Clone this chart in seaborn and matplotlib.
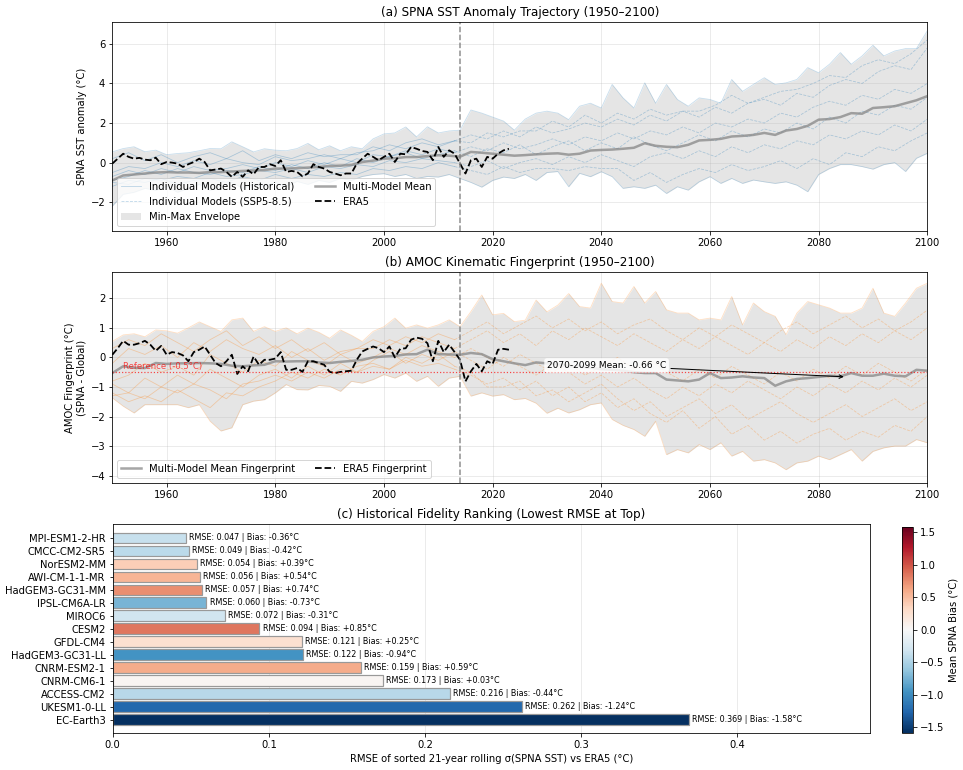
import numpy as np
import matplotlib
matplotlib.use("Agg")
import matplotlib.pyplot as plt
import seaborn as sns
from matplotlib.colors import Normalize
from matplotlib.cm import ScalarMappable
from matplotlib.lines import Line2D
from matplotlib.patches import Patch

# ---------------- data ----------------
# 2-year grid 1950..2100
sst_mean = [-0.9, -0.65, -0.6, -0.55, -0.5,
            -0.48, -0.5, -0.5, -0.52, -0.48,
            -0.48, -0.45, -0.42, -0.4, -0.38,
            -0.3, -0.3, -0.28, -0.25, -0.22,
            -0.17, -0.15, -0.12, 0.03, 0.1,
            0.2, 0.22, 0.28, 0.28, 0.33,
            0.37, 0.35, 0.3, 0.54, 0.5,
            0.45, 0.4, 0.35, 0.38, 0.42,
            0.45, 0.47, 0.4, 0.45, 0.61,
            0.64, 0.66, 0.7, 0.75, 0.98,
            0.85, 0.8, 0.78, 0.9, 1.12,
            1.15, 1.2, 1.32, 1.35, 1.4,
            1.5, 1.4, 1.62, 1.7, 1.86,
            2.17, 2.2, 2.3, 2.5, 2.47,
            2.76, 2.8, 2.85, 3.0, 3.15, 3.36]
sst_max = [0.54, 0.71, 0.8, 0.55, 0.63,
           0.4, 0.46, 0.5, 0.6, 0.71,
           0.7, 1.05, 0.8, 0.54, 0.7,
           0.63, 0.6, 0.71, 0.97, 0.65,
           0.85, 0.6, 0.8, 0.7, 1.2,
           1.45, 1.5, 1.8, 1.3, 1.81,
           1.5, 1.6, 1.64, 2.66, 2.5,
           2.3, 2.1, 1.64, 2.2, 2.5,
           2.6, 2.5, 2.17, 2.85, 3.0,
           2.76, 3.95, 3.27, 2.76, 4.03,
           3.0, 3.95, 3.19, 2.85, 3.27,
           3.19, 3.0, 4.2, 3.6, 3.95,
           4.29, 3.95, 4.03, 4.2, 4.8,
           4.54, 4.97, 5.56, 4.97, 5.39,
           5.93, 5.39, 5.64, 5.76, 5.76, 6.66]
sst_min = [-2.2, -1.6, -1.5, -1.3, -1.4,
           -1.2, -1.5, -1.3, -1.1, -1.4,
           -1.2, -1.0, -1.3, -1.1, -1.2,
           -1.0, -1.2, -0.95, -1.1, -0.9,
           -1.0, -0.8, -0.9, -0.7, -0.6,
           -0.56, -0.7, -0.6, -0.8, -0.7,
           -0.73, -0.6, -0.8, -1.0, -1.24,
           -0.9, -0.73, -0.8, -0.6, -0.9,
           -0.5, -0.45, -1.22, -0.54, -0.71,
           -0.46, -0.71, -1.3, -1.22, -1.3,
           -1.14, -1.56, -1.22, -1.39, -0.97,
           -0.71, -1.05, -0.8, -1.05, -0.88,
           -0.97, -1.05, -0.97, -1.14, -1.47,
           -0.6, -0.3, -0.1, -0.1, -0.2,
           -0.33, -0.1, 0.0, -0.45, 0.22, 0.47]

fp_mean = [-0.53, -0.3, -0.35, -0.36, -0.19,
           -0.22, -0.2, -0.2, -0.19, -0.2,
           -0.22, -0.28, -0.3, -0.27, -0.25,
           -0.13, -0.14, -0.13, -0.13, -0.17,
           -0.19, -0.15, -0.12, -0.08, 0.0,
           0.03, 0.05, 0.1, 0.11, 0.26,
           0.11, 0.1, 0.09, 0.15, 0.11,
           -0.06, -0.13, -0.2, -0.26, -0.17,
           -0.2, -0.22, -0.3, -0.3, -0.35,
           -0.4, -0.42, -0.45, -0.5, -0.53,
           -0.53, -0.75, -0.78, -0.81, -0.75,
           -0.53, -0.7, -0.68, -0.64, -0.68,
           -0.7, -0.96, -0.81, -0.73, -0.7,
           -0.66, -0.62, -0.64, -0.53, -0.62,
           -0.62, -0.55, -0.62, -0.64, -0.42, -0.45]
fp_max = [0.54, 0.76, 0.8, 0.7, 0.93,
          0.9, 0.82, 1.0, 1.2, 1.04,
          0.88, 1.27, 1.33, 0.88, 1.04,
          0.88, 1.0, 0.8, 0.99, 0.85,
          0.65, 0.93, 0.75, 0.54, 0.88,
          1.04, 1.33, 0.99, 1.1, 0.99,
          1.1, 1.27, 1.04, 1.55, 2.11,
          1.44, 1.49, 1.21, 1.26, 1.94,
          1.54, 1.77, 2.16, 1.72, 1.67,
          2.51, 1.89, 1.84, 2.4, 1.84,
          2.23, 1.61, 1.5, 1.5, 1.27,
          1.33, 1.27, 2.06, 1.1, 1.84,
          1.55, 1.39, 0.77, 1.5, 1.89,
          1.78, 1.67, 1.5, 1.5, 1.67,
          2.34, 1.5, 1.39, 1.84, 2.34, 2.51]
fp_min = [-1.37, -1.65, -1.88, -1.6, -1.6,
          -1.6, -1.6, -1.7, -1.6, -2.16,
          -2.49, -2.38, -1.6, -1.48, -1.43,
          -1.2, -0.92, -1.09, -1.1, -0.95,
          -0.98, -1.15, -0.81, -0.87, -0.75,
          -0.58, -0.7, -0.53, -0.81, -0.64,
          -0.98, -0.7, -0.64, -1.31, -1.2,
          -1.31, -1.26, -1.43, -1.39, -1.55,
          -1.89, -1.72, -1.88, -1.77, -1.6,
          -1.54, -2.1, -2.3, -2.44, -2.67,
          -2.16, -3.29, -3.12, -3.23, -2.95,
          -3.12, -2.89, -3.34, -3.18, -3.51,
          -3.46, -3.57, -3.8, -3.57, -3.51,
          -3.34, -3.46, -3.29, -3.12, -3.51,
          -3.18, -3.06, -3.0, -3.0, -2.78, -2.89]

# ERA5 annual 1950..2023
era5_sst = [-0.05, 0.2, 0.45, 0.29, 0.2, 0.24, 0.15, 0.12, 0.25, -0.08,
            0.03, 0.0, -0.05, -0.22, -0.08, 0.03, 0.2, 0.03, -0.39, -0.35,
            -0.3, -0.47, -0.72, -0.47, -0.72, -0.39, -0.59, -0.22, -0.22, -0.08,
            -0.17, 0.12, -0.47, -0.42, -0.47, -0.69, -0.55, -0.08, -0.22, -0.3,
            -0.47, -0.55, -0.64, -0.55, -0.55, -0.05, 0.2, 0.45, 0.29, 0.12,
            0.29, 0.45, 0.03, 0.45, 0.42, 0.79, 0.7, 0.59, 0.54, 0.12,
            0.79, 0.29, 0.62, 0.45, -0.05, -0.55, 0.12, 0.2, -0.22, 0.29,
            0.2, 0.45, 0.62, 0.7]
era5_fp = [0.09, 0.31, 0.56, 0.43, 0.43, 0.48, 0.56, 0.43, 0.22, 0.39,
           0.09, 0.18, 0.15, 0.07, -0.13, 0.18, 0.26, 0.37, 0.09, -0.19,
           -0.3, -0.13, 0.09, -0.56, -0.3, -0.47, 0.03, -0.25, -0.08, -0.08,
           -0.04, 0.18, -0.42, -0.42, -0.36, -0.49, -0.13, -0.13, -0.19, -0.25,
           -0.49, -0.53, -0.49, -0.47, -0.45, -0.08, 0.2, 0.29, 0.37, 0.31,
           0.18, 0.37, 0.0, 0.29, 0.31, 0.6, 0.67, 0.63, 0.48, -0.13,
           0.56, 0.18, 0.43, 0.18, -0.08, -0.81, -0.47, -0.22, -0.47, -0.13,
           -0.22, 0.26, 0.29, 0.26]

# individual models, 3-year grid: historical 1950..2013, SSP5-8.5 2016..2100
sst_models_hist = [
    [-0.5, -0.2, -0.3, 0.0, -0.2, 0.1, -0.1, 0.2, 0.0, -0.1, 0.3, 0.1, 0.2, 0.4, 0.2, 0.5, 0.6, 0.9, 0.7, 1.0, 0.8, 1.1],
    [-1.2, -0.9, -1.0, -0.8, -1.1, -0.9, -0.8, -1.0, -0.7, -0.9, -0.6, -0.8, -0.6, -0.7, -0.5, -0.6, -0.3, -0.4, -0.2, -0.3, 0.0, -0.2],
    [-0.7, -0.4, -0.6, -0.3, -0.5, -0.2, -0.4, -0.3, -0.1, -0.3, 0.0, -0.2, 0.1, -0.1, 0.2, 0.0, 0.4, 0.3, 0.6, 0.4, 0.7, 0.5],
    [-0.9, -0.7, -0.4, -0.6, -0.3, -0.5, -0.6, -0.4, -0.5, -0.2, -0.4, -0.1, -0.3, 0.0, -0.2, 0.2, 0.0, 0.3, 0.5, 0.2, 0.4, 0.6],
    [0.2, 0.5, 0.1, 0.4, 0.0, 0.3, 0.5, 0.2, 0.6, 0.1, 0.4, 0.2, 0.5, 0.3, 0.4, 0.4, 0.8, 0.6, 1.0, 1.2, 0.9, 1.1],
    [-1.0, -1.1, -0.8, -0.9, -0.7, -0.8, -0.5, -0.7, -0.6, -0.4, -0.5, -0.3, -0.5, -0.2, -0.3, -0.1, -0.2, 0.1, 0.0, 0.2, 0.1, 0.0],
]
sst_models_ssp = [
    [1.4, 1.2, 1.6, 1.3, 1.8, 1.5, 1.7, 2.0, 1.8, 2.2, 1.9, 2.4, 2.1, 2.6, 2.3, 2.8, 2.5, 3.0, 3.2, 2.9, 3.5, 3.3, 3.9, 4.2, 4.0, 4.6, 4.9, 4.7, 5.8],
    [-0.4, -0.6, -0.2, -0.5, -0.3, -0.3, -0.4, -0.2, -0.3, -0.3, -0.9, -0.5, -1.0, -0.6, -0.3, -0.5, -0.1, -0.4, -0.2, 0.1, -0.3, 0.2, -0.1, 0.5, 0.3, 0.8, 0.6, 1.1, 1.5],
    [0.8, 0.6, 1.0, 0.7, 0.9, 1.2, 0.9, 1.3, 1.1, 1.5, 1.2, 1.6, 1.4, 1.8, 1.5, 2.0, 1.8, 2.2, 2.0, 2.5, 2.3, 2.8, 3.1, 2.9, 3.4, 3.2, 3.7, 3.5, 4.0],
    [0.3, 0.7, 0.5, 0.9, 0.4, 0.8, 1.1, 0.6, 1.0, 0.7, 1.3, 0.9, 0.6, 1.0, 1.4, 1.1, 1.6, 1.3, 1.7, 1.5, 2.0, 1.7, 2.3, 2.0, 2.6, 2.4, 2.9, 2.7, 3.3],
    [1.0, 1.5, 1.3, 1.6, 1.6, 2.1, 1.8, 2.4, 2.0, 2.5, 2.2, 2.7, 2.4, 2.6, 2.6, 2.9, 3.4, 3.0, 3.3, 3.6, 3.7, 4.0, 4.4, 4.3, 4.9, 5.2, 5.0, 5.5, 6.2],
    [-0.2, 0.1, -0.3, 0.0, 0.2, -0.1, 0.3, 0.0, 0.4, 0.1, -0.2, 0.3, 0.5, 0.2, 0.6, 0.3, 0.8, 0.5, 0.9, 0.7, 1.1, 0.9, 1.4, 1.2, 1.6, 1.4, 1.9, 1.6, 2.2],
]
fp_models_hist = [
    [-1.3, -1.2, -1.4, -1.0, -1.2, -0.9, -1.1, -1.4, -0.9, -0.8, -0.6, -0.8, -0.5, -0.7, -0.4, -0.5, -0.3, -0.4, -0.1, -0.3, -0.2, -0.4],
    [-0.2, 0.3, 0.1, 0.4, 0.0, 0.5, 0.2, 0.6, 0.3, 0.1, 0.4, 0.0, 0.3, -0.1, 0.2, 0.3, 0.3, 0.6, 0.4, 0.7, 0.5, 0.3],
    [-0.8, -0.6, -0.2, -0.5, -0.3, -0.6, 0.1, -0.2, -0.5, -0.1, -0.3, 0.2, -0.1, -0.3, 0.1, -0.2, 0.0, 0.3, 0.1, 0.4, 0.2, 0.0],
    [-1.2, -1.5, -1.3, -1.5, -1.1, -1.4, -1.7, -1.2, -1.3, -1.0, -0.8, -0.5, -0.7, -0.4, -0.6, -0.3, -0.2, -0.4, 0.0, -0.2, 0.1, -0.3],
    [0.3, 0.6, 0.4, 0.8, 0.5, 0.2, 0.6, 0.9, 0.4, 0.7, 0.3, 0.6, 0.2, 0.5, 0.1, 0.3, 0.6, 0.4, 0.7, 0.5, 0.8, 0.6],
    [-0.9, -1.2, -0.7, -1.0, -0.6, -0.9, -0.4, -0.7, -1.0, -0.6, -0.4, -0.7, -0.3, -0.6, -0.2, -0.5, -0.1, 0.2, -0.2, 0.1, -0.1, 0.2],
]
fp_models_ssp = [
    [-0.6, -0.9, -0.7, -1.1, -0.8, -1.3, -1.0, -1.5, -1.2, -1.7, -1.4, -1.9, -2.2, -1.8, -2.4, -2.0, -2.6, -2.3, -2.8, -2.5, -2.9, -2.6, -2.4, -2.8, -2.5, -2.7, -2.3, -2.5, -2.0],
    [0.6, 0.9, 0.5, 0.8, 0.4, 0.9, 0.6, 1.0, 0.7, 0.4, 0.8, 0.5, 0.2, 0.6, 0.3, 0.7, 0.4, 0.1, 0.5, 0.2, 0.6, 0.3, 0.7, 0.4, 0.8, 0.5, 0.9, 0.6, 1.0],
    [0.3, 0.0, -0.3, 0.1, -0.2, -0.5, -0.2, -0.6, -0.3, 0.0, -0.4, -0.1, -0.5, -0.8, -0.4, -0.7, -0.3, -0.6, -0.9, -0.5, -0.8, -0.4, -0.7, -0.3, -0.6, -0.2, -0.5, -0.8, -0.4],
    [-0.5, -1.0, -1.0, -0.8, -1.3, -1.1, -1.5, -1.2, -0.9, -1.4, -1.8, -1.5, -2.0, -1.7, -1.4, -1.9, -1.6, -2.1, -1.8, -1.5, -1.9, -2.2, -1.9, -1.6, -2.0, -1.7, -1.4, -1.8, -1.5],
    [0.9, 1.2, 0.8, 1.1, 1.4, 1.0, 1.3, 0.9, 1.2, 0.8, 1.1, 1.3, 0.9, 0.6, 1.0, 0.7, 1.1, 0.8, 0.5, 0.9, 1.2, 0.8, 1.1, 1.4, 1.0, 1.3, 0.9, 1.2, 1.6],
    [-0.1, -0.4, 0.0, -0.3, -0.6, -0.2, -0.5, -0.9, -0.6, -1.0, -0.7, -1.1, -1.4, -1.0, -1.3, -0.9, -1.2, -0.8, -1.1, -1.4, -1.0, -1.3, -0.9, -1.2, -0.8, -1.1, -0.7, -1.0, -0.6],
]

models = ["MPI-ESM1-2-HR", "CMCC-CM2-SR5", "NorESM2-MM", "AWI-CM-1-1-MR",
          "HadGEM3-GC31-MM", "IPSL-CM6A-LR", "MIROC6", "CESM2", "GFDL-CM4",
          "HadGEM3-GC31-LL", "CNRM-ESM2-1", "CNRM-CM6-1", "ACCESS-CM2",
          "UKESM1-0-LL", "EC-Earth3"]
rmse = [0.047, 0.049, 0.054, 0.056, 0.057, 0.060, 0.072, 0.094, 0.121,
        0.122, 0.159, 0.173, 0.216, 0.262, 0.369]
bias = [-0.36, -0.42, 0.39, 0.54, 0.74, -0.73, -0.31, 0.85, 0.25,
        -0.94, 0.59, 0.03, -0.44, -1.24, -1.58]

annot_text = "2070-2099 Mean: -0.66 °C"
annot_value = -0.66
ref_level = -0.5
split_year = 2014

# ---------------- grids ----------------
yrs2 = np.arange(1950, 2101, 2)
yrs3 = np.arange(1950, 2101, 3)
yrs_era = np.arange(1950, 2024)

# ---------------- figure ----------------
W, H = 963, 770
fig = plt.figure(figsize=(W / 72, H / 72), dpi=72)

def frac(l, t, r, b):
    return [l / W, 1 - b / H, (r - l) / W, (b - t) / H]

ax_a = fig.add_axes(frac(112.3, 21.7, 927.3, 230.7))
ax_b = fig.add_axes(frac(112.3, 272.3, 927.3, 482.7))
ax_c = fig.add_axes(frac(112.7, 524.0, 870.0, 733.3))
cax = fig.add_axes(frac(901.7, 526.7, 913.0, 732.7))


def draw_models(ax, hist, ssp, color):
    for h, f in zip(hist, ssp):
        n = len(h)
        xh = yrs3[:n]
        sns.lineplot(x=xh, y=h, ax=ax, color=color, alpha=0.3, lw=0.8)
        fy = [h[-1]] + list(f)
        xf = yrs3[n - 1:n - 1 + len(fy)]
        sns.lineplot(x=xf, y=fy[:len(xf)], ax=ax, color=color, alpha=0.3,
                     lw=0.8, linestyle="--")


def draw_env(ax, lo, hi, color):
    n = min(len(lo), len(hi))
    x = yrs2[:n]
    ax.fill_between(x, lo[:n], hi[:n], color="gray", alpha=0.2, lw=0)
    sns.lineplot(x=x, y=lo[:n], ax=ax, color=color, alpha=0.25, lw=0.8)
    sns.lineplot(x=x, y=hi[:n], ax=ax, color=color, alpha=0.25, lw=0.8)


blue = "#1f77b4"
orange = "#ff7f0e"

# ---- panel (a)
draw_env(ax_a, sst_min, sst_max, blue)
draw_models(ax_a, sst_models_hist, sst_models_ssp, blue)
sns.lineplot(x=yrs2[:len(sst_mean)], y=sst_mean, ax=ax_a, color="gray",
             alpha=0.7, lw=2.5)
sns.lineplot(x=yrs_era[:len(era5_sst)], y=era5_sst, ax=ax_a, color="black",
             lw=1.8, linestyle="--")
ax_a.axvline(split_year, color="gray", linestyle="--", lw=1.5, alpha=0.9)
ax_a.set_xlim(1950, 2100)
ax_a.set_ylim(-3.44, 7.12)
ax_a.grid(True, alpha=0.3)
ax_a.set_ylabel("SPNA SST anomaly (°C)")
ax_a.set_xlabel("")
ax_a.set_title("(a) SPNA SST Anomaly Trajectory (1950–2100)", fontsize=12)
handles_a = [
    Line2D([], [], color=blue, alpha=0.3, lw=0.8),
    Line2D([], [], color=blue, alpha=0.3, lw=0.8, linestyle="--"),
    Patch(facecolor="gray", alpha=0.2),
    Line2D([], [], color="gray", alpha=0.7, lw=2.5),
    Line2D([], [], color="black", lw=1.8, linestyle="--"),
]
labels_a = ["Individual Models (Historical)", "Individual Models (SSP5-8.5)",
            "Min-Max Envelope", "Multi-Model Mean", "ERA5"]
ax_a.legend(handles_a, labels_a, loc="lower left", ncol=2, fontsize=10)

# ---- panel (b)
draw_env(ax_b, fp_min, fp_max, orange)
draw_models(ax_b, fp_models_hist, fp_models_ssp, orange)
sns.lineplot(x=yrs2[:len(fp_mean)], y=fp_mean, ax=ax_b, color="gray",
             alpha=0.7, lw=2.5)
sns.lineplot(x=yrs_era[:len(era5_fp)], y=era5_fp, ax=ax_b, color="black",
             lw=1.8, linestyle="--")
ax_b.axvline(split_year, color="gray", linestyle="--", lw=1.5, alpha=0.9)
ax_b.axhline(ref_level, color="red", linestyle=":", lw=1.2, alpha=0.7)
ax_b.text(1952, ref_level + 0.05, "Reference (-0.5°C)", color="red",
          alpha=0.7, fontsize=8.5, va="bottom", ha="left")
ax_b.annotate(annot_text, xy=(2085, annot_value), xytext=(2030, -0.27),
              ha="left", va="center", fontsize=9,
              bbox=dict(boxstyle="round,pad=0.3", fc="white", ec="none",
                        alpha=0.85),
              arrowprops=dict(arrowstyle="->", color="black", lw=1))
ax_b.set_xlim(1950, 2100)
ax_b.set_ylim(-4.24, 2.88)
ax_b.grid(True, alpha=0.3)
ax_b.set_ylabel("AMOC Fingerprint (°C)\n(SPNA - Global)")
ax_b.set_xlabel("")
ax_b.set_title("(b) AMOC Kinematic Fingerprint (1950–2100)", fontsize=12)
handles_b = [Line2D([], [], color="gray", alpha=0.7, lw=2.5),
             Line2D([], [], color="black", lw=1.8, linestyle="--")]
ax_b.legend(handles_b, ["Multi-Model Mean Fingerprint", "ERA5 Fingerprint"],
            loc="lower left", ncol=2, fontsize=10)

# ---- panel (c)
vlim = max(abs(b) for b in bias)
norm = Normalize(vmin=-vlim, vmax=vlim)
cmap = plt.get_cmap("RdBu_r")
pal = {m: cmap(norm(b)) for m, b in zip(models, bias)}
sns.barplot(x=rmse, y=models, hue=models, palette=pal, legend=False,
            orient="h", ax=ax_c, edgecolor="#999999", linewidth=1.2,
            width=0.8, saturation=1)
for i, (r, b) in enumerate(zip(rmse, bias)):
    ax_c.text(r + 0.002, i, f"RMSE: {r:.3f} | Bias: {b:+.2f}°C",
              va="center", ha="left", fontsize=8)
ax_c.set_xlim(0, 0.485)
ax_c.set_ylim(15.06, -1.06)
ax_c.set_xticks([0.0, 0.1, 0.2, 0.3, 0.4])
ax_c.grid(True, axis="x", alpha=0.3)
ax_c.set_axisbelow(True)
ax_c.set_ylabel("")
ax_c.set_xlabel("RMSE of sorted 21-year rolling σ(SPNA SST) vs ERA5 (°C)")
ax_c.set_title("(c) Historical Fidelity Ranking (Lowest RMSE at Top)",
               fontsize=12)

sm = ScalarMappable(norm=norm, cmap=cmap)
sm.set_array([])
cb = fig.colorbar(sm, cax=cax)
cb.set_label("Mean SPNA Bias (°C)")

fig.savefig("out.png", dpi=72)
